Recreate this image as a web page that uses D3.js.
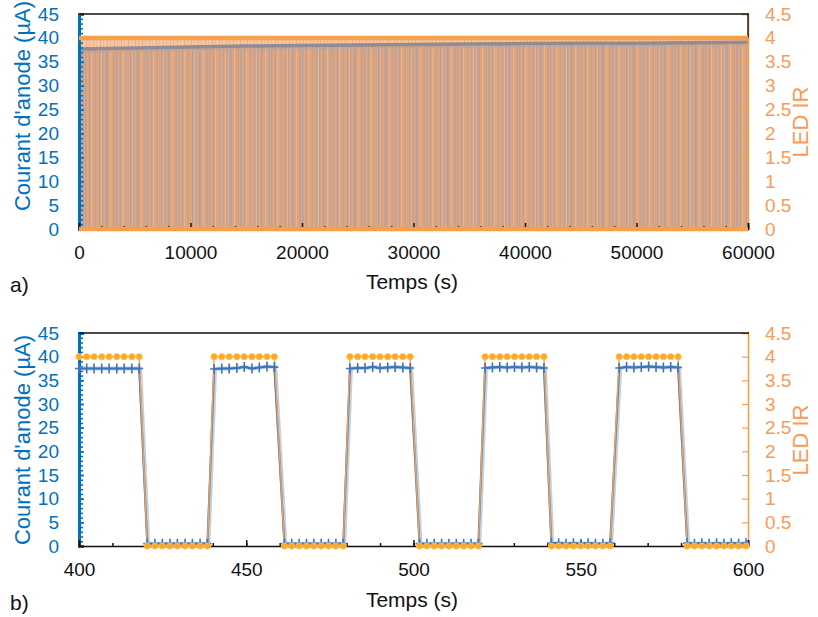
<!DOCTYPE html>
<html><head><meta charset="utf-8">
<script src="https://cdn.jsdelivr.net/npm/d3@7"></script>
<style>
body{margin:0;background:#fff;}
text{font-family:"Liberation Sans",Arial,sans-serif;}
</style></head><body>
<svg id="c" width="818" height="617"></svg>
<script>
// ---------- DATA ----------
// Panel a: envelope of the dense on/off record (0 - 60000 s)
const aTime = [0, 5000, 10000, 15000, 20000, 25000, 30000, 35000, 40000, 45000, 50000, 55000, 60000];
const aCurrentHigh = [37.7, 37.9, 38.1, 38.3, 38.4, 38.5, 38.6, 38.7, 38.8, 38.9, 38.9, 39.0, 39.1];
const aCurrentLow = [0.4, 0.4, 0.4, 0.4, 0.4, 0.4, 0.4, 0.4, 0.4, 0.4, 0.4, 0.4, 0.4];
const aLedHigh = [4, 4, 4, 4, 4, 4, 4, 4, 4, 4, 4, 4, 4];
const aLedLow = [0, 0, 0, 0, 0, 0, 0, 0, 0, 0, 0, 0, 0];

// Panel b: zoom 400 - 600 s
const bTime = [
  400.0, 402.3, 404.5, 406.8, 409.0, 411.3, 413.5, 415.8, 418.0,
  420.4, 422.7, 424.9, 427.2, 429.4, 431.7, 433.9, 436.2, 438.4,
  440.4, 442.7, 444.9, 447.2, 449.4, 451.7, 453.9, 456.2, 458.4,
  461.4, 463.6, 465.8, 468.0, 470.2, 472.4, 474.6, 476.8, 479.0,
  481.0, 483.3, 485.5, 487.8, 490.0, 492.3, 494.5, 496.8, 499.0,
  501.8, 504.0, 506.2, 508.4, 510.6, 512.8, 515.0, 517.2, 519.4,
  521.4, 523.6, 525.8, 528.0, 530.2, 532.4, 534.6, 536.8, 539.0,
  541.2, 543.4, 545.6, 547.8, 550.0, 552.2, 554.4, 556.6, 558.8,
  561.5, 563.7, 565.9, 568.1, 570.3, 572.5, 574.7, 576.9, 579.1,
  581.8, 584.0, 586.2, 588.4, 590.6, 592.8, 595.0, 597.2, 599.4
];
const bCurrent = [
  37.5, 37.5, 37.5, 37.5, 37.5, 37.5, 37.5, 37.5, 37.5,
  0.5, 0.5, 0.5, 0.5, 0.5, 0.5, 0.5, 0.5, 0.5,
  37.4, 37.5, 37.5, 37.6, 37.8, 37.5, 37.7, 37.9, 37.8,
  0.5, 0.5, 0.5, 0.5, 0.5, 0.5, 0.5, 0.5, 0.5,
  37.5, 37.6, 37.6, 37.8, 37.6, 37.7, 37.8, 37.7, 37.6,
  0.5, 0.5, 0.5, 0.5, 0.5, 0.5, 0.5, 0.5, 0.5,
  37.6, 37.7, 37.8, 37.7, 37.8, 37.7, 37.8, 37.7, 37.6,
  0.6, 0.6, 0.5, 0.6, 0.5, 0.6, 0.5, 0.5, 0.6,
  37.6, 37.8, 37.7, 37.8, 37.9, 37.8, 37.7, 37.8, 37.7,
  0.6, 0.5, 0.6, 0.5, 0.6, 0.5, 0.6, 0.5, 0.6
];
const bLed = [
  4,4,4,4,4,4,4,4,4, 0,0,0,0,0,0,0,0,0,
  4,4,4,4,4,4,4,4,4, 0,0,0,0,0,0,0,0,0,
  4,4,4,4,4,4,4,4,4, 0,0,0,0,0,0,0,0,0,
  4,4,4,4,4,4,4,4,4, 0,0,0,0,0,0,0,0,0,
  4,4,4,4,4,4,4,4,4, 0,0,0,0,0,0,0,0,0
];
// samples just outside the window (line continues off the plot)
const bCurrentBefore = {t: 397.8, v: 37.5};
const bCurrentAfter = {t: 601.6, v: 0.5};

const leftTicks = [0, 5, 10, 15, 20, 25, 30, 35, 40, 45];
const rightTicks = [0, 0.5, 1, 1.5, 2, 2.5, 3, 3.5, 4, 4.5];
const aXTicks = [0, 10000, 20000, 30000, 40000, 50000, 60000];
const bXTicks = [400, 450, 500, 550, 600];

const leftTitle = "Courant d'anode (µA)";
const rightTitle = "LED IR";
const xTitle = "Temps (s)";

// ---------- STYLE ----------
const BLUE = "#3D7CC2", AXBLUE = "#0070C0", ORANGE = "#F7A04C", DOT = "#FFA824", RLAB = "#FA9A55";
const L = 79, R = 748;
const svg = d3.select("#c");
const defs = svg.append("defs");

// fine texture imitating the thousands of overlapping on/off edges of panel a
const colMap = {o: "#EEA46B", t: "#D8A384", g: "#ABA4B0", b: "#98A6C2", p: "#F2B585"};
const cols = "otgotobtpgtotbgotpottgobtotgtpo";
const pat = defs.append("pattern").attr("id", "dense").attr("patternUnits", "userSpaceOnUse")
  .attr("width", cols.length).attr("height", 4);
[...cols].forEach((c, i) => {
  pat.append("rect").attr("x", i).attr("width", 1).attr("height", 4).attr("fill", colMap[c]);
  pat.append("rect").attr("x", i).attr("y", (i % 2) * 2).attr("width", 1).attr("height", 1)
    .attr("fill", i % 3 ? "#E9A674" : "#B3A7AC").attr("opacity", 0.6);
});
const pat2 = defs.append("pattern").attr("id", "light").attr("patternUnits", "userSpaceOnUse")
  .attr("width", 7).attr("height", 3);
pat2.append("rect").attr("width", 7).attr("height", 3).attr("fill", "#F6C6A2");
pat2.append("rect").attr("x", 2).attr("width", 1).attr("height", 3).attr("fill", "#EFAE7C");
pat2.append("rect").attr("x", 5).attr("width", 1).attr("height", 3).attr("fill", "#DDBBB3");

function drawFrame(g, x, yL, yR, top, bottom, xTicks, xMinorStep, xTitleY, panelLabel, leftMid, rightMid) {
  const yl = d3.axisLeft(yL).tickValues(d3.range(0, 46, 1)).tickSize(-4).tickFormat("");
  g.append("g").attr("transform", `translate(${L},0)`).call(yl)
    .call(s => s.select(".domain").remove())
    .call(s => s.selectAll("line").attr("stroke", AXBLUE).attr("stroke-width", 1.6));
  const yla = d3.axisLeft(yL).tickValues(leftTicks).tickSize(-5).tickPadding(20).tickFormat(d3.format("d"));
  g.append("g").attr("transform", `translate(${L},0)`).call(yla)
    .call(s => s.select(".domain").attr("stroke", AXBLUE).attr("stroke-width", 3))
    .call(s => s.selectAll("line").attr("stroke", AXBLUE).attr("stroke-width", 1.6))
    .call(s => s.selectAll("text").attr("fill", AXBLUE).attr("font-size", 19).attr("font-family", "Liberation Sans, Arial"));
  const yra = d3.axisRight(yR).tickValues(rightTicks).tickSize(-6).tickPadding(17).tickFormat(d => String(d));
  g.append("g").attr("transform", `translate(${R},0)`).call(yra)
    .call(s => s.select(".domain").attr("stroke", ORANGE).attr("stroke-width", 1.6))
    .call(s => s.selectAll("line").attr("stroke", ORANGE).attr("stroke-width", 1.2))
    .call(s => s.selectAll("text").attr("fill", RLAB).attr("font-size", 19).attr("font-family", "Liberation Sans, Arial"));
  g.append("line").attr("x1", L).attr("x2", R + 1).attr("y1", top).attr("y2", top)
    .attr("stroke", "#111").attr("stroke-width", 1.5);
  const [x0, x1] = x.domain();
  const xm = d3.axisBottom(x).tickValues(d3.range(x0, x1 + 1e-9, xMinorStep)).tickSize(-3).tickFormat("");
  g.append("g").attr("transform", `translate(0,${bottom})`).call(xm)
    .call(s => s.select(".domain").remove())
    .call(s => s.selectAll("line").attr("stroke", "#111").attr("stroke-width", 1.5));
  const xa = d3.axisBottom(x).tickValues(xTicks).tickSize(-6).tickPadding(17).tickFormat(d3.format("d"));
  g.append("g").attr("transform", `translate(0,${bottom})`).call(xa)
    .call(s => s.select(".domain").attr("stroke", "#111").attr("stroke-width", 1.6))
    .call(s => s.selectAll("line").attr("stroke", "#111").attr("stroke-width", 1.5))
    .call(s => s.selectAll("text").attr("fill", "#111").attr("font-size", 19).attr("font-family", "Liberation Sans, Arial"));
  g.append("text").attr("transform", `translate(30,${leftMid}) rotate(-90)`).attr("text-anchor", "middle")
    .attr("fill", AXBLUE).attr("font-size", 22).text(leftTitle);
  g.append("text").attr("transform", `translate(808,${rightMid}) rotate(-90)`).attr("text-anchor", "middle")
    .attr("fill", RLAB).attr("font-size", 22).text(rightTitle);
  g.append("text").attr("x", 412).attr("y", xTitleY).attr("text-anchor", "middle")
    .attr("fill", "#111").attr("font-size", 21).text(xTitle);
  g.append("text").attr("x", 10).attr("y", xTitleY + 3).attr("fill", "#111").attr("font-size", 21).text(panelLabel);
}

// ---------- PANEL A ----------
{
  const top = 14, bottom = 229;
  const x = d3.scaleLinear([0, 60000], [L, R]);
  const yL = d3.scaleLinear([0, 45], [bottom, top]);
  const yR = d3.scaleLinear([0, 4.5], [bottom, top]);
  const g = svg.append("g");
  const idx = d3.range(aTime.length);
  g.append("path").attr("fill", "url(#light)")
    .attr("d", d3.area().x(i => x(aTime[i])).y0(i => yR(aLedLow[i])).y1(i => yR(aLedHigh[i]))(idx));
  g.append("path").attr("fill", "url(#dense)")
    .attr("d", d3.area().x(i => x(aTime[i])).y0(i => yL(aCurrentLow[i])).y1(i => yL(aCurrentHigh[i]))(idx));
  g.append("path").attr("fill", "none").attr("stroke", "#928C92").attr("stroke-width", 3.5)
    .attr("d", d3.line().x(i => x(aTime[i])).y(i => yL(aCurrentHigh[i]))(idx));
  g.append("path").attr("fill", "none").attr("stroke", "#B9A6A0").attr("stroke-width", 1.5).attr("opacity", 0.8)
    .attr("d", d3.line().x(i => x(aTime[i])).y(i => yL(aCurrentHigh[i]) + 3)(idx));
  drawFrame(g, x, yL, yR, top, bottom, aXTicks, 2000, 289, "a)", 106, 122);
  // right border above the LED level
  g.append("line").attr("x1", R).attr("x2", R).attr("y1", top).attr("y2", yR(4))
    .attr("stroke", "#222").attr("stroke-width", 1.5);
  g.append("path").attr("fill", "none").attr("stroke", ORANGE).attr("stroke-width", 4.5)
    .attr("d", d3.line().x(i => x(aTime[i])).y(i => yR(aLedHigh[i]))(idx));
  g.append("path").attr("fill", "none").attr("stroke", ORANGE).attr("stroke-width", 4.5)
    .attr("d", d3.line().x(i => x(aTime[i])).y(i => yR(aLedLow[i]))(idx));
}

// ---------- PANEL B ----------
{
  const top = 333, bottom = 546;
  const x = d3.scaleLinear([400, 600], [L, R]);
  const yL = d3.scaleLinear([0, 45], [bottom, top]);
  const yR = d3.scaleLinear([0, 4.5], [bottom, top]);
  const g = svg.append("g");
  defs.append("clipPath").attr("id", "clipB").append("rect")
    .attr("x", L).attr("y", top - 5).attr("width", R - L).attr("height", bottom - top + 10);
  drawFrame(g, x, yL, yR, top, bottom, bXTicks, 10, 607, "b)", 440, 440);
  const cur = [bCurrentBefore].concat(bTime.map((t, i) => ({t, v: bCurrent[i]})), [bCurrentAfter]);
  const led = bTime.map((t, i) => ({t, v: bLed[i]}));
  g.append("path").attr("clip-path", "url(#clipB)").attr("fill", "none").attr("stroke", "#9DB3CF")
    .attr("stroke-width", 4).attr("opacity", 0.6)
    .attr("d", d3.line().x(d => x(d.t) + 1).y(d => yL(d.v))(cur));
  g.append("path").attr("clip-path", "url(#clipB)").attr("fill", "none").attr("stroke", BLUE)
    .attr("stroke-width", 2).attr("d", d3.line().x(d => x(d.t)).y(d => yL(d.v))(cur));
  g.append("path").attr("fill", "none").attr("stroke", ORANGE).attr("stroke-width", 1.4)
    .attr("d", d3.line().x(d => x(d.t)).y(d => yR(d.v))(led));
  g.append("g").selectAll("path").data(cur.slice(1, -1)).join("path")
    .attr("d", d => `M${x(d.t) - 4},${yL(d.v)}h8M${x(d.t)},${yL(d.v) - 5}v10`)
    .attr("stroke", "#3C74BB").attr("stroke-width", 1.6).attr("fill", "none");
  g.append("g").selectAll("circle").data(led).join("circle")
    .attr("cx", d => x(d.t)).attr("cy", d => yR(d.v)).attr("r", 3.2)
    .attr("fill", DOT).attr("stroke", "#FFC46A").attr("stroke-width", 0.6);
}
</script></body></html>
